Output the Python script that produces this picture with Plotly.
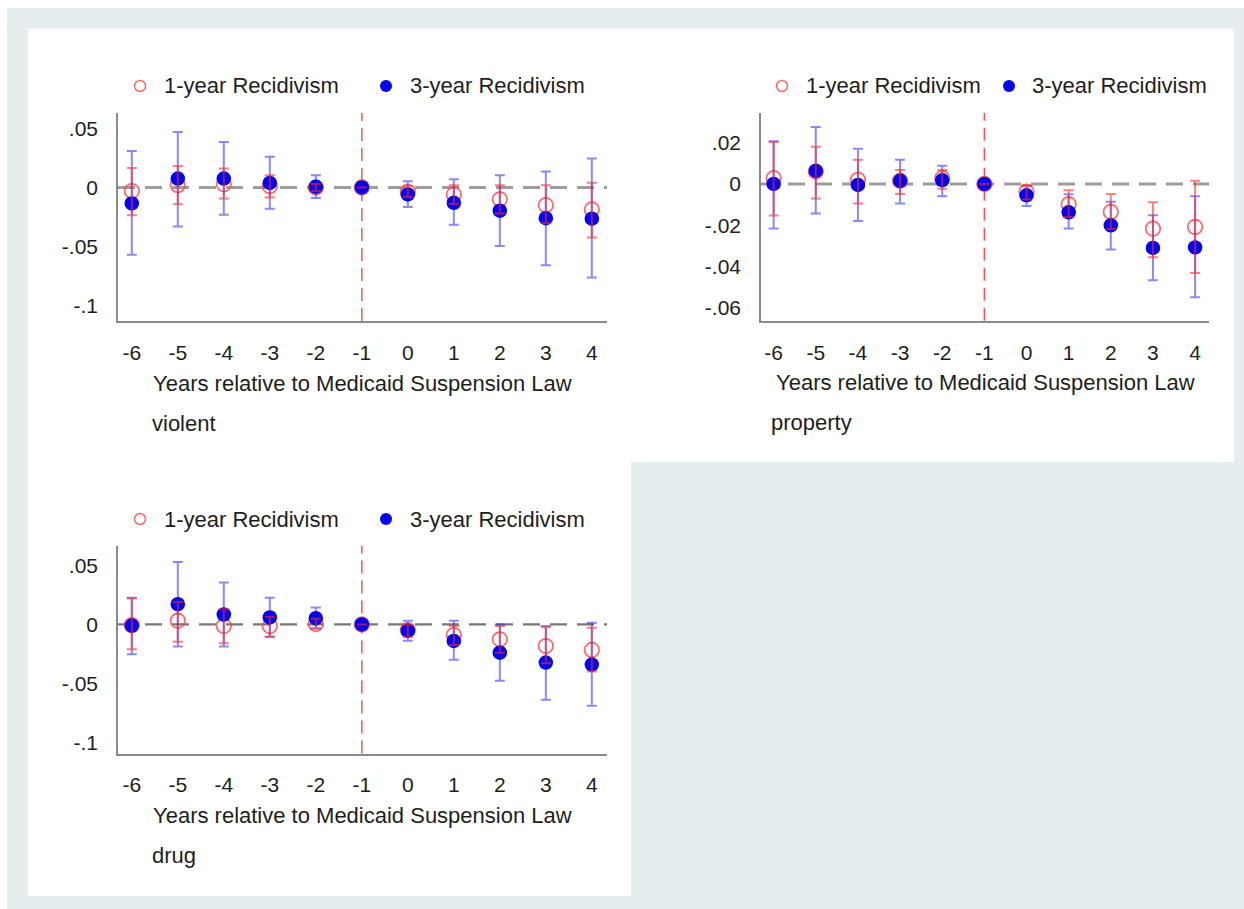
import plotly.graph_objects as go

W, H = 1244, 909

years = [-6, -5, -4, -3, -2, -1, 0, 1, 2, 3, 4]
year_labels = ["-6", "-5", "-4", "-3", "-2", "-1", "0", "1", "2", "3", "4"]

# ---- violent ----
violent_1yr_est = [-0.003, 0.002, 0.0028, 0.0011, 0.0, 0.0, -0.0037, -0.006, -0.010, -0.015, -0.0186]
violent_1yr_lo = [-0.0236, -0.0143, -0.0093, -0.0084, -0.003, None, -0.008, -0.014, -0.022, -0.030, -0.0424]
violent_1yr_hi = [0.0166, 0.0183, 0.016, 0.0104, 0.003, None, 0.001, 0.002, 0.002, 0.002, 0.004]
violent_3yr_est = [-0.0135, 0.0076, 0.0076, 0.0039, 0.0006, 0.0, -0.0059, -0.013, -0.0197, -0.026, -0.0264]
violent_3yr_lo = [-0.057, -0.033, -0.023, -0.018, -0.009, None, -0.0166, -0.0315, -0.0495, -0.0658, -0.0762]
violent_3yr_hi = [0.031, 0.047, 0.0385, 0.026, 0.0104, None, 0.0053, 0.007, 0.0104, 0.0135, 0.0245]

# ---- property ----
property_1yr_est = [0.0028, 0.006, 0.002, 0.0016, 0.0028, 0.0, -0.0037, -0.0098, -0.0135, -0.0216, -0.0208]
property_1yr_lo = [-0.0153, -0.007, -0.0094, -0.0049, -0.0023, None, -0.0075, -0.016, -0.0218, -0.0354, -0.0431]
property_1yr_hi = [0.0203, 0.018, 0.0117, 0.0068, 0.0068, None, -0.0007, -0.0031, -0.0049, -0.0088, 0.0015]
property_3yr_est = [0.0, 0.0063, -0.0005, 0.0015, 0.0018, 0.0, -0.0055, -0.0137, -0.020, -0.0309, -0.0307]
property_3yr_lo = [-0.0215, -0.0143, -0.0179, -0.0094, -0.006, None, -0.0107, -0.0215, -0.0317, -0.0465, -0.0548]
property_3yr_hi = [0.0207, 0.0275, 0.017, 0.0117, 0.0088, None, -0.0011, -0.005, -0.0086, -0.0151, -0.006]

# ---- drug ----
drug_1yr_est = [-0.0006, 0.0031, -0.0014, -0.0014, 0.0003, 0.0, -0.0048, -0.009, -0.0126, -0.0183, -0.0216]
drug_1yr_lo = [-0.021, -0.0146, -0.016, -0.0104, -0.0034, None, -0.0104, -0.0174, -0.0239, -0.0329, -0.0399]
drug_1yr_hi = [0.022, 0.019, 0.0129, 0.0065, 0.0048, None, -0.0003, -0.0014, -0.0014, -0.0025, -0.0028]
drug_3yr_est = [-0.001, 0.0171, 0.0084, 0.0059, 0.0053, 0.0, -0.0053, -0.014, -0.0239, -0.0323, -0.034]
drug_3yr_lo = [-0.0253, -0.0188, -0.0188, -0.0104, -0.0034, None, -0.0138, -0.030, -0.0478, -0.0638, -0.0689]
drug_3yr_hi = [0.0225, 0.0528, 0.0354, 0.0225, 0.0143, None, 0.0031, 0.0031, 0.0, -0.0014, 0.0014]

yt_big = [-0.1, -0.05, 0, 0.05]
yt_big_text = ["-.1", "-.05", "0", ".05"]
yt_prop = [-0.06, -0.04, -0.02, 0, 0.02]
yt_prop_text = ["-.06", "-.04", "-.02", "0", ".02"]

series_1yr = "1-year Recidivism"
series_3yr = "3-year Recidivism"
x_title = "Years relative to Medicaid Suspension Law"

FONT = "Liberation Sans, Arial, Helvetica, sans-serif"
TXT = "#1e1e1e"
BLUE = "#0303ee"
BLUE_ERR = "rgba(40,40,255,0.55)"
RED_LINE = "rgba(255,70,70,0.8)"
RED_ERR = "rgba(255,40,40,0.6)"


def errs(est, lo, hi):
    plus = [None if h is None else h - e for e, h in zip(est, hi)]
    minus = [None if l is None else e - l for e, l in zip(est, lo)]
    return plus, minus


panels = [
    dict(label="violent", ax="", xd=(118, 607), yd=(113, 321), yr=(-0.1131, 0.0631),
         tv=yt_big, tt=yt_big_text, lblx=150, zc="rgba(140,140,140,0.85)", zw=3,
         d1=(violent_1yr_est, violent_1yr_lo, violent_1yr_hi),
         d3=(violent_3yr_est, violent_3yr_lo, violent_3yr_hi)),
    dict(label="property", ax="2", xd=(761, 1209), yd=(113, 320.7), yr=(-0.0661, 0.0343),
         tv=yt_prop, tt=yt_prop_text, lblx=769, zc="rgba(140,140,140,0.85)", zw=3,
         d1=(property_1yr_est, property_1yr_lo, property_1yr_hi),
         d3=(property_3yr_est, property_3yr_lo, property_3yr_hi)),
    dict(label="drug", ax="3", xd=(118, 607), yd=(546, 753.5), yr=(-0.1093, 0.0664),
         tv=yt_big, tt=yt_big_text, lblx=150, zc="rgba(95,95,95,0.85)", zw=2.4,
         d1=(drug_1yr_est, drug_1yr_lo, drug_1yr_hi),
         d3=(drug_3yr_est, drug_3yr_lo, drug_3yr_hi)),
]

fig = go.Figure()
shapes = []
annotations = []

# background
shapes.append(dict(type="rect", xref="paper", yref="paper", x0=7 / W, x1=1.0, y0=0, y1=1 - 8 / H,
                   fillcolor="#e5edef", line=dict(width=0), layer="below"))
for (x0, y0, x1, y1) in [(28, 29, 631, 462), (631, 29, 1234, 462), (28, 462, 631, 896)]:
    shapes.append(dict(type="rect", xref="paper", yref="paper", x0=x0 / W, x1=x1 / W,
                       y0=1 - y1 / H, y1=1 - y0 / H, fillcolor="white", line=dict(width=0), layer="below"))

layout_axes = {}
for p in panels:
    ax = p["ax"]
    xname, yname = "x" + ax, "y" + ax
    e3, l3, h3 = p["d3"]
    e1, l1, h1 = p["d1"]
    p3, m3 = errs(e3, l3, h3)
    p1, m1 = errs(e1, l1, h1)

    shapes.append(dict(type="line", xref=xname + " domain", yref=yname, x0=0, x1=1, y0=0, y1=0,
                       line=dict(color=p["zc"], width=p["zw"], dash="17px,10px"), layer="below"))
    shapes.append(dict(type="line", xref=xname, yref=yname + " domain", x0=-1, x1=-1, y0=0, y1=1,
                       line=dict(color="rgba(255,60,60,0.9)", width=1.5, dash="13px,7px"), layer="below"))

    # 1-year markers (below)
    fig.add_trace(go.Scatter(
        x=years, y=e1, mode="markers", xaxis=xname, yaxis=yname, showlegend=False, name=series_1yr,
        marker=dict(symbol="circle-open", color=RED_LINE, size=14.5, line=dict(width=1.8, color=RED_LINE))))
    # 3-year markers with CIs
    fig.add_trace(go.Scatter(
        x=years, y=e3, mode="markers", xaxis=xname, yaxis=yname, showlegend=False, name=series_3yr,
        marker=dict(color=BLUE, size=14.5, line=dict(width=0)),
        error_y=dict(type="data", array=p3, arrayminus=m3, color=BLUE_ERR, thickness=2, width=5)))
    # 1-year CIs (on top)
    fig.add_trace(go.Scatter(
        x=years, y=e1, mode="markers", xaxis=xname, yaxis=yname, showlegend=False, name=series_1yr + " CI",
        marker=dict(color="rgba(0,0,0,0)", size=1, line=dict(width=0)),
        error_y=dict(type="data", array=p1, arrayminus=m1, color=RED_ERR, thickness=2, width=5),
        hoverinfo="skip"))

    xk = "xaxis" + ax
    yk = "yaxis" + ax
    layout_axes[xk] = dict(domain=[p["xd"][0] / W, p["xd"][1] / W], anchor=yname,
                           range=[-6.3, 4.33], tickvals=years, ticktext=year_labels,
                           showline=True, linecolor="#8a8a8a", linewidth=1.5, showgrid=False,
                           zeroline=False, ticks="", ticklabelstandoff=12,
                           tickfont=dict(family=FONT, size=21, color=TXT))
    layout_axes[yk] = dict(domain=[1 - p["yd"][1] / H, 1 - p["yd"][0] / H], anchor=xname,
                           range=list(p["yr"]), tickvals=p["tv"], ticktext=p["tt"],
                           showline=True, linecolor="#8a8a8a", linewidth=1.5, showgrid=False,
                           zeroline=False, ticks="", ticklabelstandoff=14,
                           tickfont=dict(family=FONT, size=21, color=TXT))

    left, right = p["xd"]
    top = p["yd"][0]
    bottom = p["yd"][1]
    annotations.append(dict(text=x_title, xref="paper", yref="paper", x=(left + right) / 2 / W,
                            y=1 - (bottom + 62) / H, xanchor="center", yanchor="middle", showarrow=False,
                            font=dict(family=FONT, size=22, color=TXT)))
    annotations.append(dict(text=p["label"], xref="paper", yref="paper", x=p["lblx"] / W,
                            y=1 - (bottom + 102) / H, xanchor="left", yanchor="middle", showarrow=False,
                            font=dict(family=FONT, size=22, color=TXT)))
    ly = top - 27
    if ax == "2":
        cx1, tx1, cx3, tx3 = 782, 804, 1009, 1030
    else:
        cx1, tx1, cx3, tx3 = 140, 162, 386, 408
    shapes.append(dict(type="circle", xref="paper", yref="paper",
                       x0=(cx1 - 5.5) / W, x1=(cx1 + 5.5) / W, y0=1 - (ly + 5.5) / H, y1=1 - (ly - 5.5) / H,
                       line=dict(color=RED_LINE, width=1.5), fillcolor="rgba(0,0,0,0)"))
    shapes.append(dict(type="circle", xref="paper", yref="paper",
                       x0=(cx3 - 6) / W, x1=(cx3 + 6) / W, y0=1 - (ly + 6) / H, y1=1 - (ly - 6) / H,
                       line=dict(color=BLUE, width=0), fillcolor=BLUE))
    annotations.append(dict(text=series_1yr, xref="paper", yref="paper", x=tx1 / W, y=1 - ly / H,
                            xanchor="left", yanchor="middle", showarrow=False,
                            font=dict(family=FONT, size=22, color=TXT)))
    annotations.append(dict(text=series_3yr, xref="paper", yref="paper", x=tx3 / W, y=1 - ly / H,
                            xanchor="left", yanchor="middle", showarrow=False,
                            font=dict(family=FONT, size=22, color=TXT)))

fig.update_layout(
    width=W, height=H, margin=dict(l=0, r=0, t=0, b=0),
    paper_bgcolor="white", plot_bgcolor="rgba(0,0,0,0)",
    showlegend=False, shapes=shapes, annotations=annotations,
    font=dict(family=FONT, color=TXT),
    **layout_axes,
)

fig.write_html("out.html")
